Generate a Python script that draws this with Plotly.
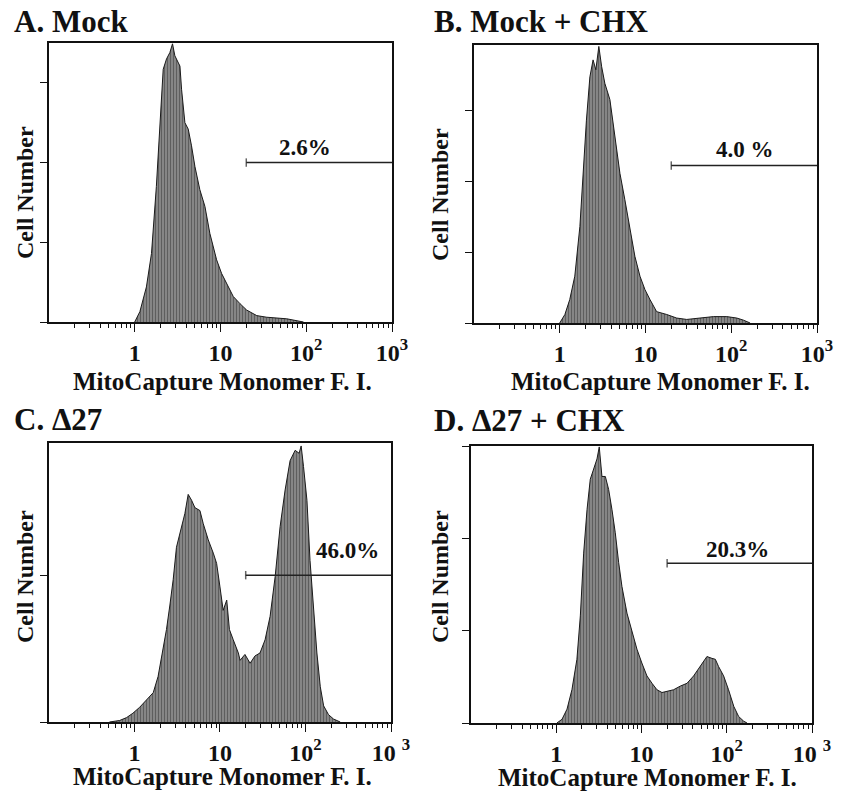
import numpy as np
import plotly.graph_objects as go

W, H = 843, 795

# ---------------- data ----------------
# Fluorescence intensity (bin position) and cell counts per panel
a_fi = [1.00, 1.15, 1.37, 1.57, 1.79, 1.96, 2.15, 2.35, 2.57, 2.76, 2.94, 3.37, 3.52, 3.85,
        4.21, 4.60, 5.04, 5.75, 6.59, 7.53, 9.02, 10.3, 12.4, 14.1, 16.9, 20.2, 26.5, 34.6,
        59.3, 88.7, 92.9]
a_counts = [0, 13, 44, 86, 170, 237, 317, 330, 338, 349, 334, 321, 292, 250,
            242, 221, 195, 166, 145, 111, 78, 61, 44, 32, 23, 15, 8, 6,
            4, 1, 0]

b_fi = [1.00, 1.15, 1.31, 1.50, 1.72, 1.88, 2.05, 2.25, 2.45, 2.64, 2.86, 3.08, 3.36, 3.85,
        4.21, 4.60, 5.04, 5.75, 6.59, 7.53, 8.63, 9.87, 11.3, 13.5, 17.7, 23.1, 30.3, 47.4,
        62.0, 88.8, 116, 139, 159, 166]
b_counts = [0, 12, 33, 66, 136, 211, 286, 347, 371, 357, 390, 362, 338, 315,
            282, 249, 211, 174, 136, 94, 66, 47, 33, 16, 12, 7, 5, 7,
            9, 9, 7, 4, 1, 0]

c_fi = [0.51, 0.67, 0.81, 0.96, 1.15, 1.38, 1.66, 1.89, 2.17, 2.37, 2.59, 2.84, 3.10, 3.55,
        3.89, 4.25, 4.66, 5.09, 5.83, 6.38, 7.30, 8.36, 9.14, 10.0, 10.9, 12.0, 12.9, 14.3,
        16.4, 17.2, 19.6, 22.5, 25.7, 29.4, 33.7, 38.6, 44.2, 50.5, 57.8, 66.1, 75.7, 84.3,
        89.0, 94.8, 104, 113, 124, 136, 149, 163, 186, 213, 255]
c_counts = [0, 1, 3, 6, 10, 15, 20, 31, 51, 63, 79, 97, 119, 133,
            142, 155, 151, 146, 144, 135, 124, 115, 108, 92, 76, 83, 63, 56,
            47, 42, 46, 40, 45, 47, 56, 72, 99, 133, 158, 178, 185, 183,
            188, 174, 151, 110, 79, 47, 24, 11, 5, 2, 0]

d_fi = [1.02, 1.17, 1.34, 1.53, 1.75, 1.92, 2.10, 2.30, 2.51, 2.75, 3.01, 3.20, 3.44, 3.77,
        4.12, 4.51, 4.93, 5.40, 5.90, 6.76, 7.73, 8.85, 10.1, 11.6, 13.3, 15.2, 17.4, 19.9,
        23.8, 28.6, 34.2, 40.9, 49.0, 58.6, 67.1, 73.5, 80.4, 92.0, 105, 121, 138, 158, 173]
d_counts = [0, 4, 15, 36, 69, 116, 184, 231, 264, 275, 286, 299, 267, 267,
            253, 231, 206, 174, 148, 119, 98, 80, 65, 51, 43, 36, 33, 34,
            36, 40, 43, 51, 61, 72, 70, 69, 61, 51, 36, 18, 7, 2, 0]

titles = ["A. Mock", "B. Mock + CHX", "C. \u039427", "D. \u039427 + CHX"]
gate_labels = ["2.6%", "4.0 %", "46.0%", "20.3%"]
gate_low = [20, 20, 20, 20]
gate_high = [1000, 1000, 1000, 1000]
gate_level = [200, 222, 100, 173]
gate_label_x = [97, 145, 314, 132]
y_max = [350, 392, 190, 300]
y_ticks = [[0, 100, 200, 300], [0, 100, 200, 300], [0, 100], [0, 100, 200, 300]]
x_tickvals = [1, 10, 100, 1000]
x_ticktext_top = ["1", "10", "10<sup>2</sup>", "10<sup>3</sup>"]
x_ticktext_bottom = ["1", "10", "10<sup>2</sup>", "10 <sup>3</sup>"]
x_title = "MitoCapture Monomer F. I."
y_title = "Cell Number"

# ---------------- layout geometry (pixels) ----------------
# (left, right, top, bottom) of each plot area
boxes = [(49, 392, 43, 322), (474, 817, 45, 323), (49, 391, 443, 722), (471, 812, 446, 723)]
title_pos = [(12, 22), (432, 22), (12, 419), (432, 420)]
xtitle_pos = [(223, 381), (660, 381), (223, 776), (647, 777)]
ytitle_pos = [(25, 193), (440, 195), (25, 577), (440, 577)]
label_shift = [15, 16, 25, 14]

FONT = "Liberation Serif, Times New Roman, serif"
INK = "#111111"

series = [(a_fi, a_counts), (b_fi, b_counts), (c_fi, c_counts), (d_fi, d_counts)]

fig = go.Figure()
annotations = []

for i, (fi, counts) in enumerate(series):
    k = "" if i == 0 else str(i + 1)
    xa, ya = "x" + k, "y" + k
    l, r, t, b = boxes[i]
    fig.add_trace(go.Scatter(
        x=fi, y=counts, xaxis=xa, yaxis=ya, mode="lines",
        line=dict(color="#1a1a1a", width=1),
        fill="tozeroy",
        fillcolor="#7a7a7a",
        fillpattern=dict(shape="|", fgcolor="#2e2e2e", bgcolor="#8e8e8e", size=3, solidity=0.45),
        hoverinfo="skip", showlegend=False,
    ))
    # gate marker
    fig.add_trace(go.Scatter(
        x=[gate_low[i], gate_high[i]], y=[gate_level[i], gate_level[i]],
        xaxis=xa, yaxis=ya, mode="lines+markers",
        line=dict(color="#222222", width=1.5),
        marker=dict(symbol="line-ns-open", size=[6, 0], line=dict(color="#222222", width=1.5)),
        hoverinfo="skip", showlegend=False, cliponaxis=False,
    ))
    annotations.append(dict(
        x=np.log10(gate_label_x[i]), y=gate_level[i], xref=xa, yref=ya,
        text=gate_labels[i], showarrow=False, xanchor="center", yanchor="middle",
        yshift=label_shift[i], font=dict(family=FONT, size=23, color=INK, weight="bold"),
    ))
    xaxis_name = "xaxis" + k
    yaxis_name = "yaxis" + k
    fig.layout[xaxis_name] = dict(
        type="log", range=[-0.999, 3], domain=[l / W, r / W], anchor=ya,
        automargin=False,
        showline=True, mirror=True, linecolor=INK, linewidth=1.5,
        showgrid=False, zeroline=False,
        tickmode="array", tickvals=x_tickvals,
        ticktext=x_ticktext_top if i < 2 else x_ticktext_bottom,
        ticks="outside", ticklen=8, tickwidth=1, tickcolor=INK,
        minor=dict(ticks="outside", ticklen=4, tickwidth=1, tickcolor=INK, dtick="D1", showgrid=False),
        tickfont=dict(family=FONT, size=24, color=INK, weight="bold"),
        ticklabelstandoff=0,
    )
    fig.layout[yaxis_name] = dict(
        range=[0, y_max[i]], domain=[1 - b / H, 1 - t / H], anchor=xa,
        automargin=False,
        showline=True, mirror=True, linecolor=INK, linewidth=1.5,
        showgrid=False, zeroline=False,
        tickmode="array", tickvals=y_ticks[i], showticklabels=False,
        ticks="outside", ticklen=7, tickwidth=1, tickcolor=INK,
    )
    annotations.append(dict(
        x=title_pos[i][0] / W, y=1 - title_pos[i][1] / H, xref="paper", yref="paper",
        text=titles[i], showarrow=False, xanchor="left", yanchor="middle",
        font=dict(family=FONT, size=31, color=INK, weight="bold"),
    ))
    annotations.append(dict(
        x=xtitle_pos[i][0] / W, y=1 - xtitle_pos[i][1] / H, xref="paper", yref="paper",
        text=x_title, showarrow=False, xanchor="center", yanchor="middle",
        font=dict(family=FONT, size=25, color=INK, weight="bold"),
    ))
    annotations.append(dict(
        x=ytitle_pos[i][0] / W, y=1 - ytitle_pos[i][1] / H, xref="paper", yref="paper",
        text=y_title, showarrow=False, xanchor="center", yanchor="middle", textangle=-90,
        font=dict(family=FONT, size=24, color=INK, weight="bold"),
    ))

fig.update_layout(
    width=W, height=H, autosize=False, margin=dict(l=0, r=0, t=0, b=0, pad=0),
    paper_bgcolor="white", plot_bgcolor="white",
    annotations=annotations,
    font=dict(family=FONT, color=INK),
)

post = (
    "document.documentElement.style.overflow='hidden';"
    "document.body.style.margin='0';document.body.style.overflow='hidden';"
)

fig.write_html(
    "out.html",
    config={"displayModeBar": False},
    post_script=post,
)
